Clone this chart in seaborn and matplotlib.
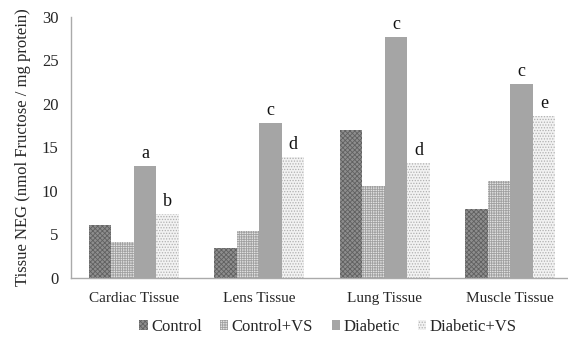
import matplotlib
matplotlib.use("Agg")
import matplotlib.pyplot as plt
import seaborn as sns
import pandas as pd
from matplotlib.patches import Patch

tissues = ["Cardiac Tissue", "Lens Tissue", "Lung Tissue", "Muscle Tissue"]
groups = ["Control", "Control+VS", "Diabetic", "Diabetic+VS"]
control = [6.05, 3.5, 16.95, 7.9]
control_vs = [4.15, 5.35, 10.55, 11.1]
diabetic = [12.85, 17.8, 27.65, 22.25]
diabetic_vs = [7.35, 13.9, 13.2, 18.6]
letters_diabetic = ["a", "c", "c", "c"]
letters_diabetic_vs = ["b", "d", "d", "e"]

rows = []
for g, vals in zip(groups, [control, control_vs, diabetic, diabetic_vs]):
    for t, v in zip(tissues, vals):
        rows.append({"Tissue": t, "Group": g, "Value": v})
df = pd.DataFrame(rows)

sns.set_style("white")
plt.rcParams["font.family"] = ["Liberation Serif", "DejaVu Serif"]
plt.rcParams["hatch.linewidth"] = 0.6

fig = plt.figure(figsize=(5.68, 3.39), dpi=100)
ax = fig.add_axes([71/568, 61/339, 502/568, 261.3/339])

styles = {
    "Control": dict(face="#8e8e8e", hatch="xxxxxxx", hc="#606060"),
    "Control+VS": dict(face="#e2e2e2", hatch="+++++++", hc="#a0a0a0"),
    "Diabetic": dict(face="#a5a5a5", hatch="", hc="#a5a5a5"),
    "Diabetic+VS": dict(face="#f2f2f2", hatch="......", hc="#b0b0b0"),
}
palette = {g: styles[g]["face"] for g in groups}

sns.barplot(data=df, x="Tissue", y="Value", hue="Group", order=tissues,
            hue_order=groups, palette=palette, width=0.72, ax=ax,
            saturation=1, legend=False, errorbar=None, linewidth=0)

for cont, g in zip(ax.containers, groups):
    st = styles[g]
    for bar in cont:
        bar.set_hatch(st["hatch"])
        bar.set_edgecolor(st["hc"])
        bar.set_linewidth(0)

for cont, labs in [(ax.containers[2], letters_diabetic), (ax.containers[3], letters_diabetic_vs)]:
    for bar, lab in zip(cont, labs):
        ax.text(bar.get_x() + bar.get_width()/2, bar.get_height() + 0.45, lab,
                ha="center", va="bottom", fontsize=13, color="#111111")

ax.set_xlim(-0.5, 3.5)
ax.set_ylim(0, 30)
ax.set_yticks([0, 5, 10, 15, 20, 25, 30])
ax.set_xticks([0, 1, 2, 3])
ax.set_xticklabels(tissues)
ax.set_xticks([0.5, 1.5, 2.5], minor=True)
ax.tick_params(axis="x", which="major", length=0, pad=10, labelsize=11)
ax.tick_params(axis="x", which="minor", length=5, color="#999999", direction="out")
ax.tick_params(axis="y", length=4, color="#999999", direction="out", labelsize=12, pad=5)
ax.set_xlabel("")
ax.set_ylabel("Tissue NEG (nmol Fructose / mg protein)", fontsize=12, labelpad=8)
for s in ["top", "right"]:
    ax.spines[s].set_visible(False)
for s in ["left", "bottom"]:
    ax.spines[s].set_color("#aaaaaa")
    ax.spines[s].set_linewidth(1)

handles = [Patch(facecolor=styles[g]["face"], hatch=styles[g]["hatch"],
                 edgecolor=styles[g]["hc"], linewidth=0) for g in groups]
fig.legend(handles, groups, loc="center", bbox_to_anchor=(328/568, 1 - 327/339),
           ncol=4, frameon=False, fontsize=12, handlelength=0.5, handleheight=0.5,
           handletextpad=0.2, columnspacing=1.1)

fig.savefig("out.png", dpi=100)
